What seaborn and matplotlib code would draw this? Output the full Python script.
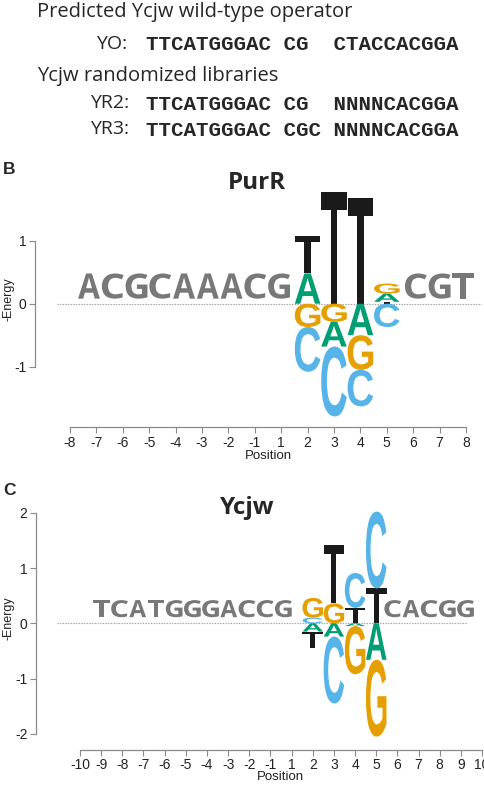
import matplotlib
matplotlib.use("Agg")
import matplotlib.pyplot as plt
import seaborn as sns
import pandas as pd
from matplotlib.textpath import TextPath
from matplotlib.patches import PathPatch
from matplotlib.font_manager import FontProperties
from matplotlib import transforms

# ---- data ----
header_title = "Predicted Ycjw wild-type operator"
library_title = "Ycjw randomized libraries"
seq_names = ["YO:", "YR2:", "YR3:"]
seq_strings = ["TTCATGGGAC CG  CTACCACGGA",
               "TTCATGGGAC CG  NNNNCACGGA",
               "TTCATGGGAC CGC NNNNCACGGA"]

purr_positions = [-8, -7, -6, -5, -4, -3, -2, -1, 1, 2, 3, 4, 5, 6, 7, 8]
purr_fixed_left = "ACGCAAACG"
purr_fixed_right = "CGT"
purr_var_positions = [2, 3, 4, 5]
purr_A = [0.48, -0.39, -0.50, 0.13]
purr_C = [-0.71, -1.11, -0.58, -0.37]
purr_G = [-0.37, -0.29, -0.55, 0.16]
purr_T = [0.60, 1.78, 1.67, 0.03]

ycjw_positions = [-10, -9, -8, -7, -6, -5, -4, -3, -2, -1, 1, 2, 3, 4, 5, 6, 7, 8, 9, 10]
ycjw_fixed_left = "TCATGGGACCG"
ycjw_fixed_right = "CACGG"
ycjw_var_positions = [2, 3, 4, 5]
ycjw_A = [-0.15, -0.24, -0.05, -0.66]
ycjw_C = [0.10, -1.21, 0.63, 1.39]
ycjw_G = [0.36, 0.36, -0.87, -1.39]
ycjw_T = [-0.30, 1.06, 0.28, 0.63]

# ---- style ----
sns.set_theme(style="white")
plt.rcParams["font.family"] = ["Liberation Sans", "DejaVu Sans"]
base_colors = dict(zip("ACGT", sns.color_palette(["#009E73", "#56B4E9", "#E69F00", "#1a1a1a"])))
grey = "#787878"
axis_grey = "#8a8a8a"
W, H = 484, 786

letter_font = FontProperties(family="Liberation Sans", weight="bold")
grey_font = FontProperties(family="Open Sans", weight="bold")


def draw_letter(ax, ch, xc, y0, w, h, color, fp):
    tp = TextPath((0, 0), ch, size=1, prop=fp)
    bb = tp.get_extents()
    tr = (transforms.Affine2D().translate(-bb.x0, -bb.y0)
          .scale(w / bb.width, h / bb.height).translate(xc - w / 2, y0))
    ax.add_patch(PathPatch(tr.transform_path(tp), facecolor=color, edgecolor="none", zorder=3))


def draw_panel(fig, positions, fixed_left, fixed_right, var_positions, A, C, G, T,
               tick0, colpx, zero, unitpx, xlim, ylim, spine_x, axis_y, ybound,
               pitch, lshift, rshift, gbottom, gheight, zline, title, title_xy,
               letter, letter_xy, xlabel_xy):
    left = tick0 + xlim[0] * colpx
    right = tick0 + xlim[1] * colpx
    top = zero - ylim[1] * unitpx
    bottom = zero - ylim[0] * unitpx
    ax = fig.add_axes([left / W, 1 - bottom / H, (right - left) / W, (bottom - top) / H])
    ax.set_xlim(xlim)
    ax.set_ylim(ylim)
    ax.patch.set_alpha(0)

    idx = {p: i for i, p in enumerate(positions)}
    energies = pd.DataFrame({"A": A, "C": C, "G": G, "T": T}, index=var_positions)

    # zero line
    ax.plot(zline, [0, 0], ls=(0, (1.2, 1.2)), color="#a0a0a0", lw=0.8, zorder=1)

    # fixed flanks (grey)
    n = len(fixed_left)
    cl = (n - 1) / 2 + lshift
    for i, ch in enumerate(fixed_left):
        draw_letter(ax, ch, cl + (i - (n - 1) / 2) * pitch, gbottom, pitch * 0.92, gheight, grey, grey_font)
    start = len(positions) - len(fixed_right)
    m = len(fixed_right)
    cr = start + (m - 1) / 2 + rshift
    for i, ch in enumerate(fixed_right):
        draw_letter(ax, ch, cr + (i - (m - 1) / 2) * pitch, gbottom, pitch * 0.92, gheight, grey, grey_font)

    # variable columns, stacked by magnitude away from zero
    for pos, row in energies.iterrows():
        x = idx[pos]
        pos_part = row[row > 0].sort_values()
        y = 0.0
        for b, v in pos_part.items():
            draw_letter(ax, b, x, y, 0.97, v, base_colors[b], letter_font)
            y += v
        neg_part = (-row[row < 0]).sort_values()
        y = 0.0
        for b, v in neg_part.items():
            y -= v
            draw_letter(ax, b, x, y, 0.97, v, base_colors[b], letter_font)

    # axes
    sns.despine(ax=ax, top=True, right=True)
    ax.spines["left"].set_position(("data", spine_x))
    ax.spines["left"].set_bounds(*ybound)
    ax.spines["bottom"].set_position(("data", axis_y))
    ax.spines["bottom"].set_bounds(0, len(positions) - 1)
    for s in ("left", "bottom"):
        ax.spines[s].set_color(axis_grey)
        ax.spines[s].set_linewidth(0.9)
    yt = list(range(ybound[0], ybound[1] + 1))
    ax.set_yticks(yt, [str(v) for v in yt])
    ax.set_xticks(range(len(positions)), [str(p) for p in positions])
    ax.tick_params(axis="both", direction="out", length=4, width=0.8, color=axis_grey,
                   labelsize=10, labelcolor="#222222", left=True, bottom=True)
    ax.tick_params(axis="x", pad=2)
    ax.tick_params(axis="y", pad=2)

    fig.text(xlabel_xy[0] / W, 1 - xlabel_xy[1] / H, "Position", ha="center", va="center",
             fontsize=9.5, color="#222222")
    fig.text(9 / W, 1 - (zero - 5) / H, "-Energy", rotation=90, ha="center", va="center",
             fontsize=9, color="#222222")
    fig.text(title_xy[0] / W, 1 - title_xy[1] / H, title, ha="center", va="center",
             fontsize=17.5, fontweight="bold", family="Open Sans")
    fig.text(letter_xy[0] / W, 1 - letter_xy[1] / H, letter, ha="left", va="center",
             fontsize=12.5, fontweight="bold")
    return ax


fig = plt.figure(figsize=(W / 100, H / 100), dpi=100)

# header text
fig.text(37 / W, 1 - 12 / H, header_title, fontsize=14.5, family="Open Sans", va="center")
fig.text(37 / W, 1 - 76 / H, library_title, fontsize=14.5, family="Open Sans", va="center")
name_x = [96, 90, 90]
seq_y = [44, 103, 129]
for nm, sq, nx, yy in zip(seq_names, seq_strings, name_x, seq_y):
    fig.text(nx / W, 1 - yy / H, nm, fontsize=14, family="Open Sans", va="center")
    fig.text(146 / W, 1 - (yy + 1) / H, sq, fontsize=15, family="Liberation Mono",
             fontweight="bold", va="center")

draw_panel(fig, purr_positions, purr_fixed_left, purr_fixed_right, purr_var_positions,
           purr_A, purr_C, purr_G, purr_T,
           tick0=70, colpx=26.4, zero=303.7, unitpx=63, xlim=(-1.55, 15.6), ylim=(-2.05, 2.0),
           spine_x=-1.33, axis_y=-1.96, ybound=(-1, 1),
           pitch=0.9, lshift=0.32, rshift=0.0, gbottom=0.08, gheight=0.40,
           zline=(-0.5, 15.6), title="PurR", title_xy=(257, 183),
           letter="B", letter_xy=(3, 169), xlabel_xy=(268, 456))

draw_panel(fig, ycjw_positions, ycjw_fixed_left, ycjw_fixed_right, ycjw_var_positions,
           ycjw_A, ycjw_C, ycjw_G, ycjw_T,
           tick0=80, colpx=21.16, zero=623.3, unitpx=55.3, xlim=(-2.2, 19.2), ylim=(-2.4, 2.3),
           spine_x=-2.09, axis_y=-2.29, ybound=(-2, 2),
           pitch=0.86, lshift=0.31, rshift=-0.5, gbottom=0.11, gheight=0.31,
           zline=(-1.09, 18.3), title="Ycjw", title_xy=(247, 508),
           letter="C", letter_xy=(3, 491), xlabel_xy=(280, 777))

fig.savefig("out.png", dpi=100)
